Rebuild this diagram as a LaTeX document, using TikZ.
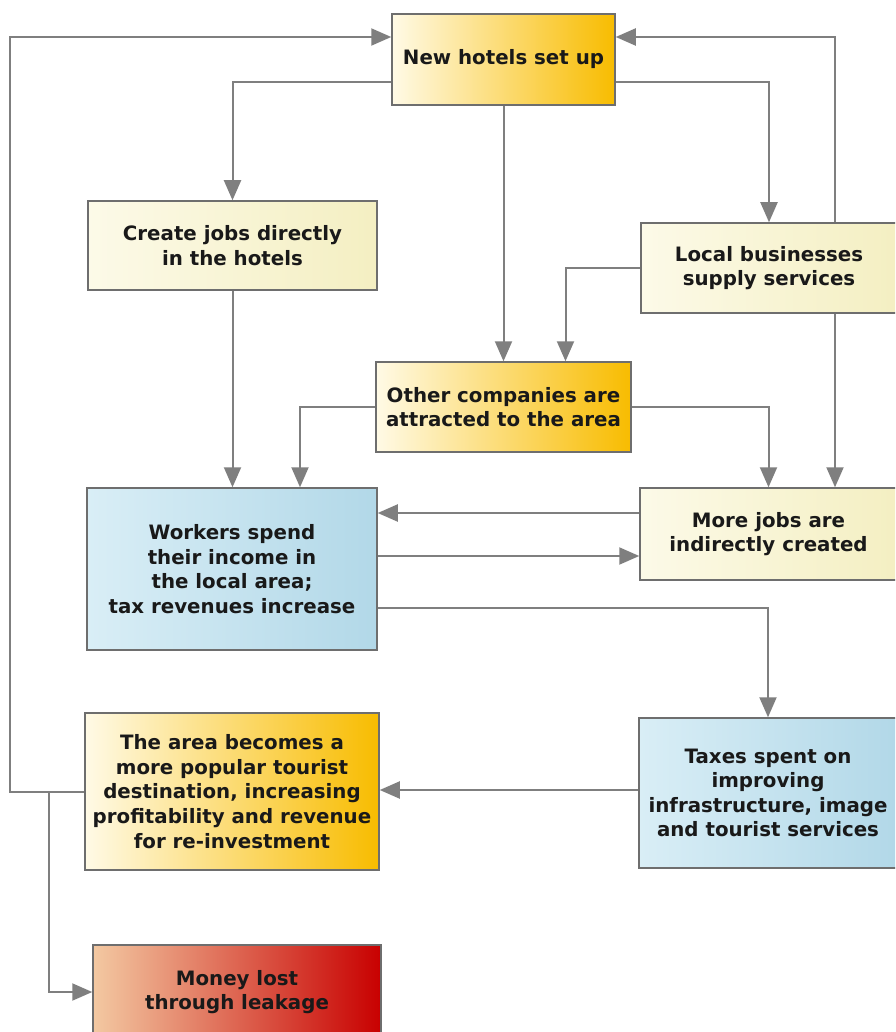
\documentclass[tikz,border=0pt]{standalone}
\usepackage{fontspec}
\setmainfont{DejaVu Sans}
\usepackage{tikz}
\usetikzlibrary{arrows.meta}

\definecolor{linegray}{HTML}{7F7F7F}
\definecolor{boxgray}{HTML}{6E6E6E}
\definecolor{ylight}{HTML}{FFFAE6}
\definecolor{ymid}{HTML}{FFE37A}
\definecolor{ygold}{HTML}{F8BC00}
\definecolor{plight}{HTML}{FCFAE8}
\definecolor{pdark}{HTML}{F4EFC2}
\definecolor{blight}{HTML}{D9EEF6}
\definecolor{bdark}{HTML}{B2D8E8}
\definecolor{rlight}{HTML}{F3C9A2}
\definecolor{rmid}{HTML}{E36B55}
\definecolor{rdark}{HTML}{C80000}

\begin{document}
\begin{tikzpicture}[x = 1pt, y = -1pt,
  box/.style = {draw = boxgray, line width = 1.5pt, align = center, inner sep = 0pt,
    text = black!90, font = \bfseries\fontsize{19.8}{24.6}\selectfont},
  goldbox/.style = {box, left color = ylight, middle color = ymid, right color = ygold},
  palebox/.style = {box, left color = plight, right color = pdark},
  bluebox/.style = {box, left color = blight, right color = bdark},
  redbox/.style = {box, left color = rlight, middle color = rmid, right color = rdark},
  arr/.style = {draw = linegray, line width = 2pt, -{Triangle[length = 20pt, width = 17pt]}}]
  \clip (0, 0) rectangle (895, 1032);
  \fill[white] (0, 0) rectangle (895, 1032);

  \node[goldbox, minimum width = 223pt, minimum height = 91pt] at (503.5, 59.5) (hotels) {New hotels set up};
  \node[palebox, minimum width = 289pt, minimum height = 89pt] at (232.5, 245.5) (jobs) {Create jobs directly\\in the hotels};
  \node[palebox, minimum width = 256pt, minimum height = 90pt] at (769, 268) (local) {Local businesses\\supply services};
  \node[goldbox, minimum width = 255pt, minimum height = 90pt] at (503.5, 407) (others) {Other companies are\\attracted to the area};
  \node[bluebox, minimum width = 290pt, minimum height = 162pt] at (232, 569) (workers) {Workers spend\\their income in\\the local area;\\tax revenues increase};
  \node[palebox, minimum width = 257pt, minimum height = 92pt] at (768.5, 534) (more) {More jobs are\\indirectly created};
  \node[bluebox, minimum width = 258pt, minimum height = 150pt] at (768, 793) (taxes) {Taxes spent on\\improving\\infrastructure, image\\and tourist services};
  \node[goldbox, minimum width = 294pt, minimum height = 157pt] at (232, 791.5) (area) {The area becomes a\\more popular tourist\\destination, increasing\\profitability and revenue\\for re-investment};
  \node[redbox, minimum width = 288pt, minimum height = 94pt] at (237, 992) (money) {Money lost\\through leakage};

  \draw[arr] (area.west) -| (10, 37) -- ([yshift = 22.5pt]hotels.west);
  \draw[arr] (area.west) -| ([xshift = -43pt]money.west) -- (money.west);
  \draw[arr] ([yshift = -22.5pt]hotels.west) -| (jobs.north);
  \draw[arr] (hotels.south) -- (others.north);
  \draw[arr] ([yshift = -22.5pt]hotels.east) -| (local.north);
  \draw[arr] ([xshift = 66pt]local.north) |- ([yshift = 22.5pt]hotels.east);
  \draw[arr] ([xshift = 66pt]local.south) -- ([xshift = 66.5pt]more.north);
  \draw[arr] (local.west) -| ([xshift = 62pt]others.north);
  \draw[arr] (others.west) -| ([xshift = 68pt]workers.north);
  \draw[arr] (others.east) -| (more.north);
  \draw[arr] (jobs.south) -- (jobs.south |- workers.north);
  \draw[arr] ([yshift = 21pt]more.west) -- ([yshift = 21pt]more.west -| workers.east);
  \draw[arr] ([yshift = -22pt]more.west -| workers.east) -- ([yshift = -22pt]more.west);
  \draw[arr] ([yshift = -39pt]workers.east) -| (taxes.north);
  \draw[arr] ([yshift = 3pt]taxes.west) -- ([yshift = 3pt]taxes.west -| area.east);
\end{tikzpicture}
\end{document}
